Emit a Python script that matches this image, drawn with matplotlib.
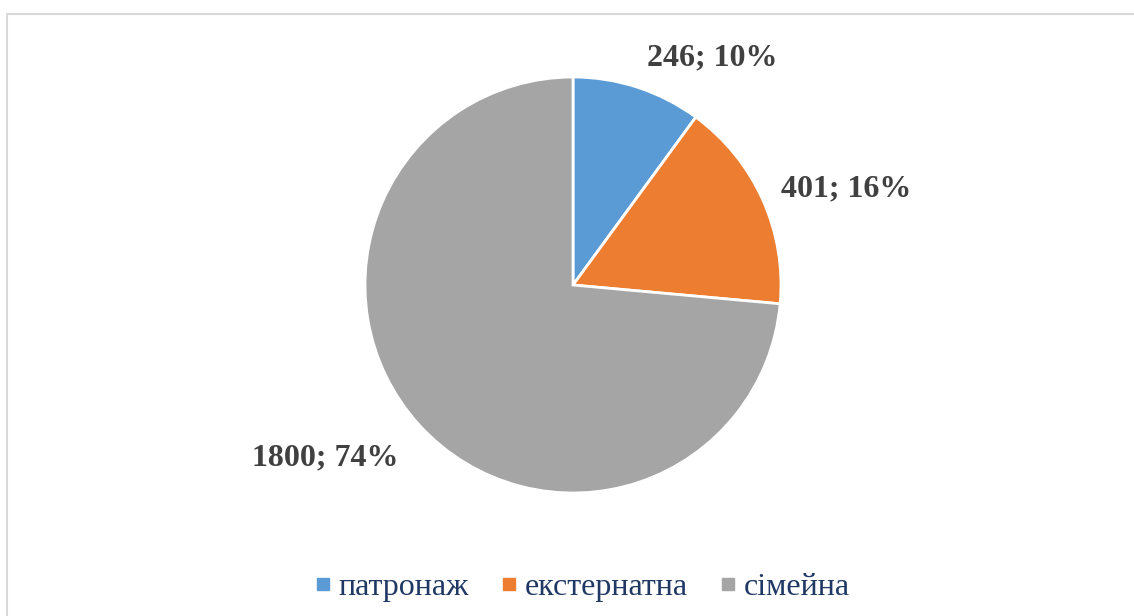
import matplotlib.pyplot as plt
from matplotlib.patches import Rectangle
from matplotlib.lines import Line2D

# data
categories = ['патронаж', 'екстернатна', 'сімейна']
values = [246, 401, 1800]
colors = ['#5B9BD5', '#ED7D31', '#A5A5A5']

# label positions in pie data coords (radius = 1)
label_pos = [(0.668, 1.09), (1.313, 0.462), (-1.19, -0.832)]

plt.rcParams['font.family'] = ['Liberation Serif', 'DejaVu Serif']

fig = plt.figure(figsize=(11.34, 6.16), dpi=100)

# light frame around chart area
fig.patches.append(Rectangle((7 / 1134, -0.01), 1.02, (616 - 14) / 616 + 0.01,
                             transform=fig.transFigure, fill=False,
                             edgecolor='#D9D9D9', linewidth=1.5))

cx, cy, r = 573, 285, 208
ax = fig.add_axes([(cx - r) / 1134, (616 - cy - r) / 616, 2 * r / 1134, 2 * r / 616])
ax.pie(values, colors=colors, startangle=90, counterclock=False, radius=1,
       wedgeprops=dict(edgecolor='white', linewidth=2))
ax.set_xlim(-1, 1)
ax.set_ylim(-1, 1)
ax.set_aspect('equal')
ax.axis('off')

total = sum(values)
for v, (x, y) in zip(values, label_pos):
    ax.text(x, y, f'{v}; {round(v / total * 100)}%', ha='center', va='center',
            fontsize=23, fontweight='bold', color='#404040', clip_on=False,
            family='Liberation Serif')

handles = [Line2D([], [], marker='s', linestyle='none', markersize=8,
                  markerfacecolor=c, markeredgecolor=c) for c in colors]
leg = fig.legend(handles, categories, loc='center', bbox_to_anchor=(580 / 1134, 1 - 587 / 616),
                 ncol=3, frameon=False, handletextpad=0.1,
                 prop={'family': 'Liberation Serif', 'size': 23},
                 columnspacing=0.85, handlelength=0.8)
for t in leg.get_texts():
    t.set_color('#1F3864')

fig.savefig('out.png', dpi=100)
